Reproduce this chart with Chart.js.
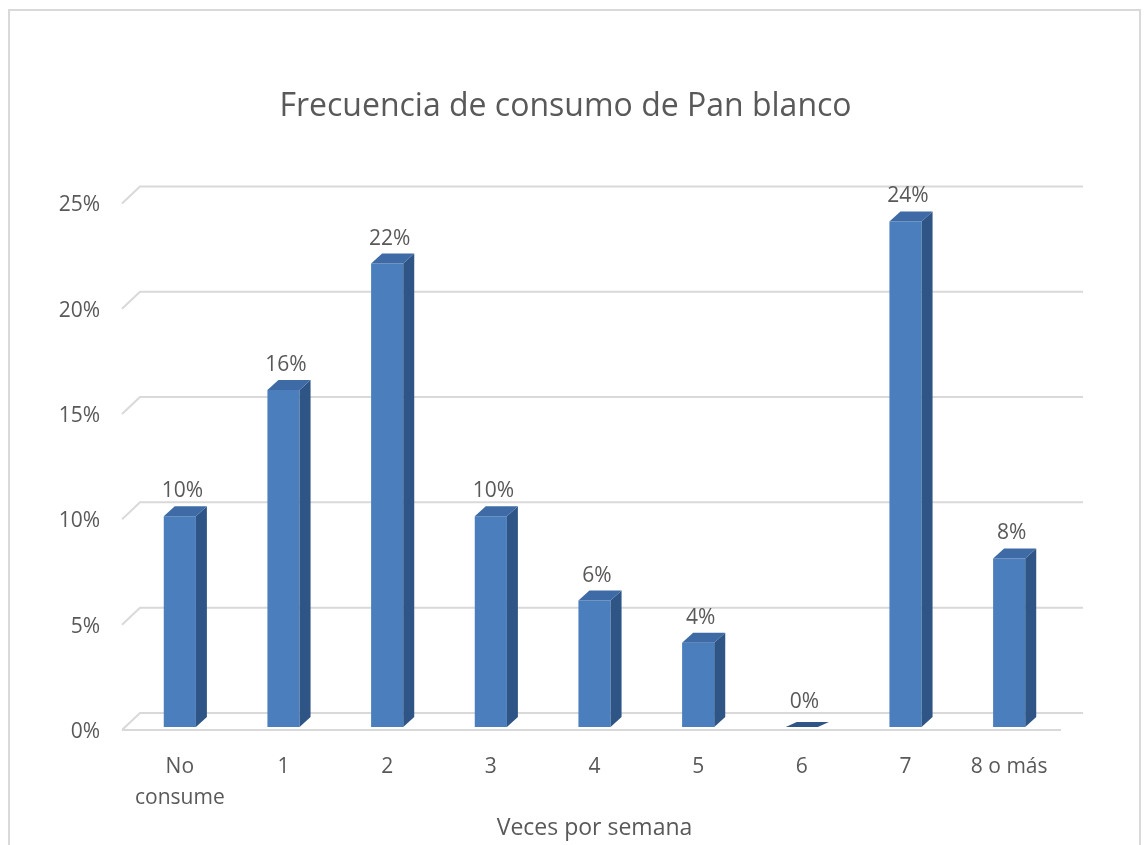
<!DOCTYPE html>
<html>
<head>
<meta charset="utf-8">
<script src="https://cdn.jsdelivr.net/npm/chart.js@4"></script>
<style>
  html, body { margin: 0; padding: 0; background: #fff; }
  #wrap { width: 1147px; height: 845px; }
</style>
</head>
<body>
<div id="wrap"><canvas id="panChart" width="1147" height="845"></canvas></div>
<script>
// Datos
const categorias = ["No consume", "1", "2", "3", "4", "5", "6", "7", "8 o más"];
const porcentajes = [10, 16, 22, 10, 6, 4, 0, 24, 8];
const ticksY = [0, 5, 10, 15, 20, 25];

const TEXTO = "#595959";
const FUENTE = "'Open Sans', 'DejaVu Sans', sans-serif";
const DX = 11, DY = -10;      // profundidad de las barras
const PX = 18, PY = -17;      // profundidad de la pared del fondo

// efecto 3D: pared, suelo, caras laterales y superiores
const bar3d = {
  id: "bar3d",
  beforeDraw(chart) {
    const ctx = chart.ctx;
    ctx.save();
    ctx.fillStyle = "#fff";
    ctx.fillRect(0, 0, chart.width, chart.height);
    ctx.strokeStyle = "#d9d9d9";
    ctx.lineWidth = 2;
    ctx.strokeRect(9, 10, 1131, 850);
    ctx.restore();
  },
  beforeDatasetsDraw(chart) {
    const ctx = chart.ctx;
    const ys = chart.scales.y;
    const area = chart.chartArea;
    const left = area.left - 6;
    ctx.save();
    ctx.strokeStyle = "#d9d9d9";
    ctx.lineWidth = 2;
    ticksY.forEach((v) => {
      const yf = ys.getPixelForValue(v) + 3;
      ctx.beginPath();
      ctx.moveTo(left, yf);
      ctx.lineTo(left + PX, yf + PY);
      ctx.lineTo(area.right + PX + 4, yf + PY);
      ctx.stroke();
    });
    // borde delantero del suelo
    const y0 = ys.getPixelForValue(0) + 3;
    ctx.beginPath();
    ctx.moveTo(left, y0);
    ctx.lineTo(area.right, y0);
    ctx.stroke();
    ctx.restore();
  },
  afterDatasetsDraw(chart) {
    const ctx = chart.ctx;
    const meta = chart.getDatasetMeta(0);
    ctx.save();
    meta.data.forEach((bar, i) => {
      const p = bar.getProps(["x", "y", "base", "width"], true);
      const l = p.x - p.width / 2, r = p.x + p.width / 2;
      const zero = Math.abs(p.base - p.y) < 0.5;
      if (!zero) {
        ctx.fillStyle = "#2f5586";
        ctx.beginPath();
        ctx.moveTo(r, p.y);
        ctx.lineTo(r + DX, p.y + DY);
        ctx.lineTo(r + DX, p.base + DY);
        ctx.lineTo(r, p.base);
        ctx.closePath();
        ctx.fill();
      }
      ctx.fillStyle = zero ? "#2f5586" : "#3e6ba5";
      const dy = zero ? -5 : DY;
      ctx.beginPath();
      ctx.moveTo(l, p.y);
      ctx.lineTo(l + DX, p.y + dy);
      ctx.lineTo(r + DX, p.y + dy);
      ctx.lineTo(r, p.y);
      ctx.closePath();
      ctx.fill();

      ctx.fillStyle = TEXTO;
      ctx.font = "21px " + FUENTE;
      ctx.textAlign = "center";
      ctx.textBaseline = "middle";
      ctx.fillText(porcentajes[i] + "%", p.x + DX / 2 - 3, p.y + DY - 15);
    });
    ctx.restore();
  }
};

new Chart(document.getElementById("panChart"), {
  type: "bar",
  data: {
    labels: categorias,
    datasets: [
      {
        data: porcentajes,
        backgroundColor: "#4b7ebc",
        borderWidth: 0,
        categoryPercentage: 1,
        barPercentage: 0.31,
      },
    ],
  },
  options: {
    responsive: false,
    animation: false,
    layout: { padding: { left: 0, right: 16, top: 0, bottom: 0 } },
    plugins: {
      legend: { display: false },
      tooltip: { enabled: false },
      title: {
        display: true,
        text: "Frecuencia de consumo de Pan blanco",
        color: TEXTO,
        font: { family: FUENTE, size: 32, weight: "normal" },
        padding: { top: 88, bottom: 74 },
      },
    },
    scales: {
      x: {
        grid: { display: false },
        border: { display: false },
        ticks: {
          color: TEXTO,
          font: { family: FUENTE, size: 21, lineHeight: 1.5 },
          padding: 16,
          maxRotation: 0,
          autoSkip: false,
          callback: function (v, i) {
            const t = categorias[i];
            return t === "No consume" ? ["No", "consume"] : t;
          },
        },
        title: {
          display: true,
          text: "Veces por semana",
          color: TEXTO,
          font: { family: FUENTE, size: 23 },
          padding: { top: 0, bottom: 3 },
        },
        afterFit: (s) => { s.height = 118; },
      },
      y: {
        min: 0,
        max: 25,
        grid: { display: false, drawTicks: false },
        border: { display: false },
        ticks: {
          stepSize: 5,
          color: TEXTO,
          font: { family: FUENTE, size: 21 },
          padding: 28,
          labelOffset: 5,
          callback: (v) => v + "%",
        },
        afterFit: (s) => { s.width = 128; },
      },
      yDer: {
        position: "right",
        grid: { display: false, drawTicks: false },
        border: { display: false },
        ticks: { display: false },
        afterFit: (s) => { s.width = 70; },
      },
    },
  },
  plugins: [bar3d],
});
</script>
</body>
</html>
